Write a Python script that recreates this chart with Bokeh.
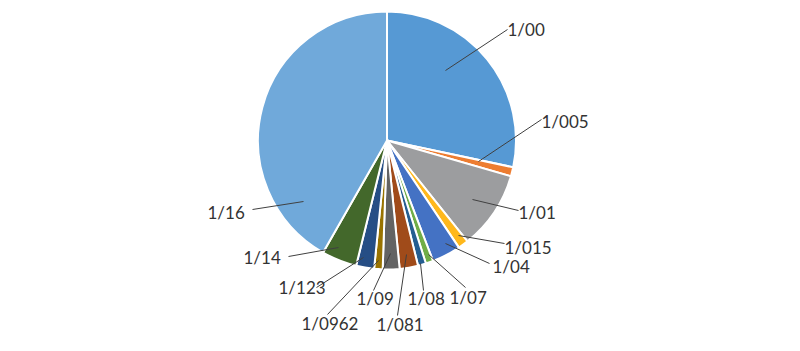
import math
from bokeh.plotting import figure
from bokeh.models import Range1d, ColumnDataSource
from bokeh.core.properties import value
from bokeh.embed import file_html
from bokeh.resources import INLINE

# ---- data ----
categories = ["1/00", "1/005", "1/01", "1/015", "1/04", "1/07", "1/08",
              "1/081", "1/09", "1/0962", "1/123", "1/14", "1/16"]
shares = [28.3, 1.14, 9.8, 1.3, 3.6, 0.94, 1.0, 2.3, 2.1, 1.06, 2.25, 4.4, 41.7]
colors = ["#5699D4", "#ED7D31", "#9C9D9F", "#FFB81C", "#4472C4", "#70AD47",
          "#255E91", "#A04B1A", "#636363", "#997300", "#264E85", "#43682B",
          "#70A9DA"]

# ---- layout (pixel coords, y down) ----
W, H = 800, 351
CX, CY, R = 386.5, 140, 129
label_pos = [(507, 29), (541, 121), (518, 212), (504, 247), (492, 266),
             (449, 297), (407, 298), (376, 324), (356, 298), (301, 323),
             (278, 287), (243, 257), (207, 212)]
leader = [((507, 29), (445, 70)), ((541, 119), (478, 161)),
          ((518, 210), (472, 199)), ((504, 243), (458, 235)),
          ((489, 263), (445, 243)), ((465, 287), (428, 254)),
          ((423, 290), (420, 263)), ((397, 315), (406, 254)),
          ((373, 290), (390, 253)), ((327, 314), (378, 260)),
          ((316, 287), (363, 257)), ((288, 256), (338, 247)),
          ((252, 209), (303, 201))]

total = sum(shares)
starts, ends = [], []
acc = 0.0
for s in shares:
    a0 = math.pi / 2 - 2 * math.pi * acc / total
    acc += s
    a1 = math.pi / 2 - 2 * math.pi * acc / total
    starts.append(a0)
    ends.append(a1)

src = ColumnDataSource(dict(cat=categories, share=shares, color=colors,
                            start=starts, end=ends))

p = figure(width=W, height=H, output_backend="svg", toolbar_location=None,
           x_range=Range1d(0, W), y_range=Range1d(0, H), min_border=0,
           outline_line_color=None, background_fill_color="white",
           border_fill_color="white")
p.axis.visible = False
p.grid.visible = False

p.wedge(x=CX, y=H - CY, radius=R, start_angle="start", end_angle="end",
        direction="clock", fill_color="color", line_color="white",
        line_width=2, source=src)

p.segment(x0=[a[0] for a, b in leader], y0=[H - a[1] for a, b in leader],
          x1=[b[0] for a, b in leader], y1=[H - b[1] for a, b in leader],
          line_color="#404040", line_width=1)

p.text(x=[q[0] for q in label_pos], y=[H - q[1] for q in label_pos],
       text=categories, text_font=value("Lato"), text_font_size="17px",
       text_color="#333333", text_align="left", text_baseline="middle")

open("out.html", "w").write(file_html(p, INLINE))
